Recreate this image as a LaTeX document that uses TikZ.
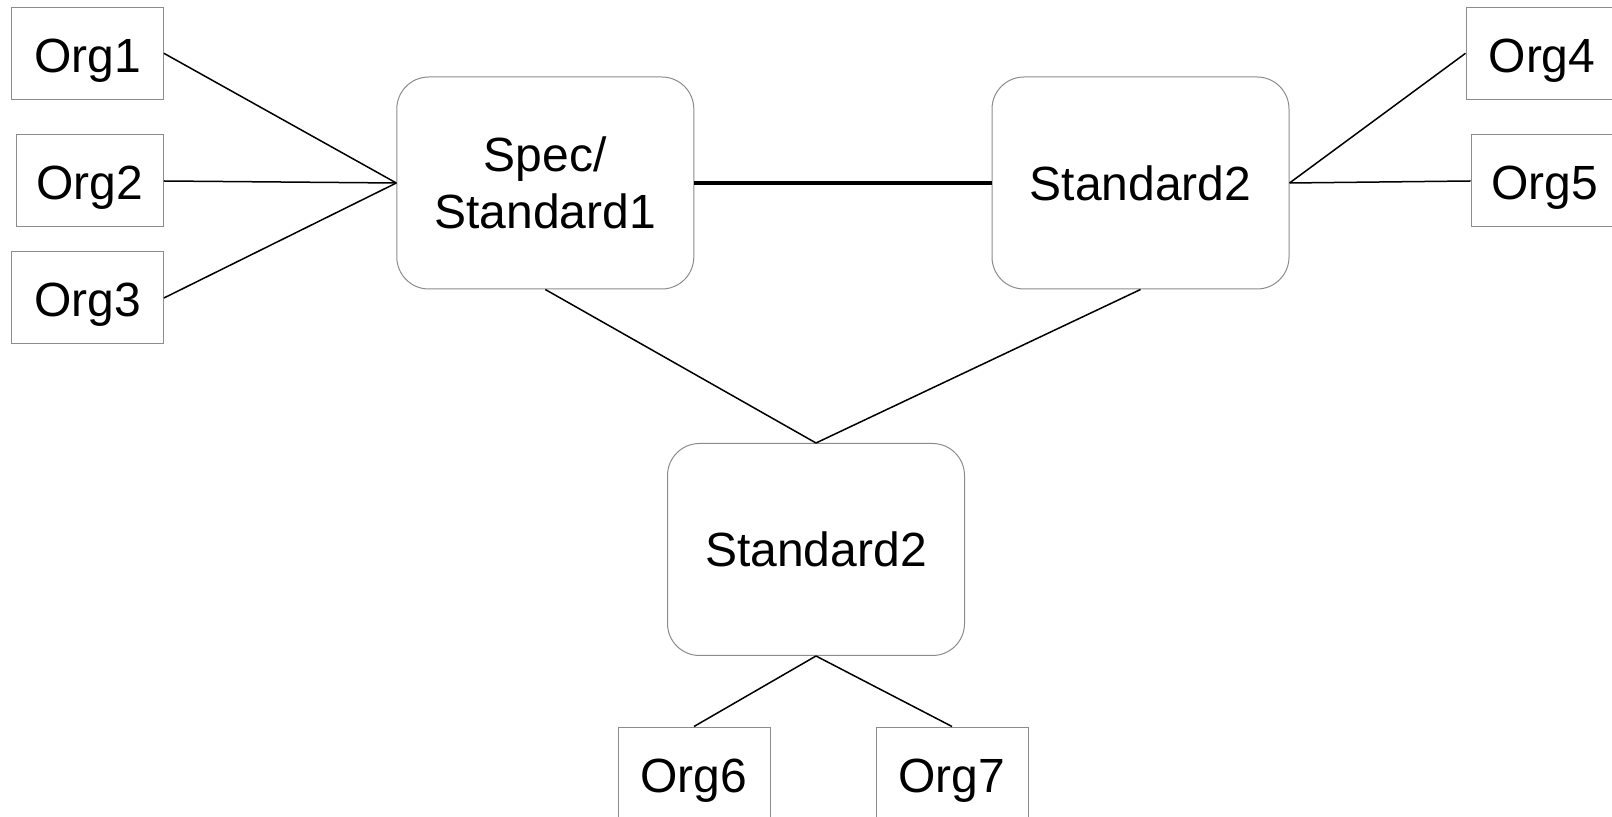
\documentclass[tikz,border=0pt]{standalone}
\usepackage{fontspec}
\setmainfont{Liberation Sans}
\definecolor{boxline}{HTML}{8C8C8C}
\tikzset{
  orgbox/.style={draw=boxline, line width=0.5pt, inner sep=0pt, minimum width=76pt, minimum height=46pt,
    text height=19pt, text depth=0pt, font=\fontsize{24}{28.5}\selectfont},
  stdbox/.style={draw=boxline, line width=0.5pt, rounded corners=16pt, inner sep=0pt, align=center,
    minimum width=148.5pt, minimum height=106pt, font=\fontsize{24}{28.5}\selectfont},
  link/.style={draw=black, line width=0.75pt},
  mainlink/.style={draw=black, line width=1.6pt}
}
\begin{document}
\begin{tikzpicture}[x=0.5pt,y=-0.5pt]
\useasboundingbox (0,0) rectangle (1612,817);
\clip (0,0) rectangle (1612,817);
\fill[white] (0,0) rectangle (1612,817);

% organisations on the left
\node[orgbox] (o1) at (87.4,53.3) {Org1};
\node[orgbox, minimum width=73.5pt] (o2) at (90,181) {Org2};
\node[orgbox] (o3) at (87.4,298) {Org3};

% standards
\node[stdbox] (spec) at (545.3,183) {Spec/\\Standard1};
\node[stdbox] (s2r) at (1140.5,183) {Standard2};
\node[stdbox] (s2b) at (816,549.5) {Standard2};

% organisations on the right
\node[orgbox] (o4) at (1542,53.3) {Org4};
\node[orgbox, minimum width=73.5pt] (o5) at (1544.5,181) {Org5};

% organisations below
\node[orgbox] (o6) at (694,773) {Org6};
\node[orgbox] (o7) at (952,773) {Org7};

% connections
\draw[link] (o1.east) -- (spec.west);
\draw[link] (o2.east) -- (spec.west);
\draw[link] (o3.east) -- (spec.west);
\draw[mainlink] (spec.east) -- (s2r.west);
\draw[link] (o4.west) -- (s2r.east);
\draw[link] (o5.west) -- (s2r.east);
\draw[link] (spec.south) -- (s2b.north);
\draw[link] (s2r.south) -- (s2b.north);
\draw[link] (s2b.south) -- (o6.north);
\draw[link] (s2b.south) -- (o7.north);
\end{tikzpicture}
\end{document}
